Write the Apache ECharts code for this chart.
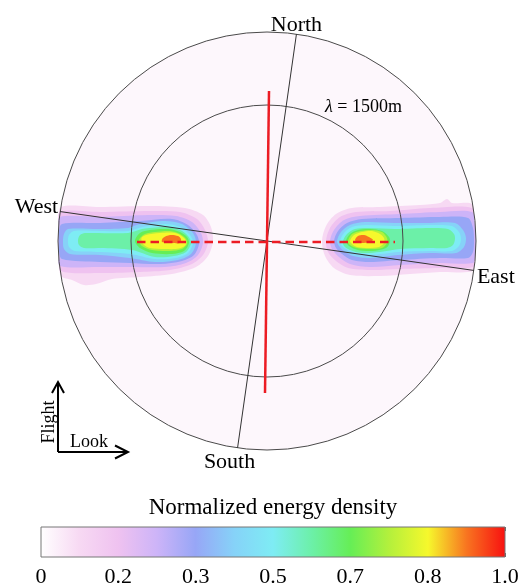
<!DOCTYPE html>
<html>
<head>
<meta charset="utf-8">
<script src="https://cdn.jsdelivr.net/npm/echarts@6/dist/echarts.min.js"></script>
<style>
  html, body { margin: 0; padding: 0; background: #ffffff; }
  #chart { width: 529px; height: 588px; }
</style>
</head>
<body>
<div id="chart"></div>
<script>
// Wavenumber-plane coordinates (arbitrary units), origin at the spectrum centre.
const OUTER_RADIUS = 104.5;
const INNER_RADIUS = 68;            // the λ = 1500 m ring
const RINGS = [OUTER_RADIUS, INNER_RADIUS];
const COMPASS_ROTATION_DEG = 8.1;   // North axis, clockwise from the flight direction
const COMPASS_LABELS = ['North', 'East', 'South', 'West'];
const WAVELENGTH_TEXT = '1500m';
const WAVELENGTH_LABEL_AT = [29, 67];

// Red reference tracks
const FLIGHT_TRACK = [[1, 75], [-1, -76]];
const LOOK_TRACK = [[-65, -0.5], [64, -0.5]];

// Flight / Look frame origin
const FRAME_ORIGIN = [-104.5, -105.5];
const FRAME_LABELS = ['Flight', 'Look'];

// Colour scale: one stop per twelfth of the normalised density
const COLOR_STOPS = [
  '#ffffff', '#f7d9f3', '#efc2f0', '#cdb4f8', '#97a6f6', '#86d2f8', '#7eecf4',
  '#6cf0a8', '#66ee56', '#b4f03c', '#f6f82c', '#f87420', '#f81010'
];
const COLORBAR_TICK_LABELS = ['0', '0.2', '0.3', '0.5', '0.7', '0.8', '1.0'];
const COLORBAR_TITLE = 'Normalized energy density';
const DISK_COLOR = '#fdf7fc';

// Filled contour bands; entry k-1 encloses density >= k/12
const WEST_BANDS = [
  [[-103,17],[-83.5,17],[-58.5,17.5],[-41,16.5],[-32,13],[-28,7],[-27,0],[-29.5,-7.5],[-35.5,-13],[-47.5,-16.5],[-63.5,-18],[-77.5,-19],[-85.5,-21.5],[-91.5,-22],[-97.5,-19.5],[-103,-17.5],[-104,-8.5],[-104.5,0],[-104,8.5]],
  [[-103.5,14.5],[-83.5,14.5],[-58.5,15],[-43.5,14.5],[-35,11],[-31,5.5],[-29.5,-0.5],[-32,-7],[-37.5,-11.5],[-48.5,-14.5],[-63.5,-15.5],[-83.5,-16],[-103,-15],[-104,-7.5],[-104.5,0],[-104,7]],
  [[-103.5,12],[-83.5,12],[-59.5,13],[-45.5,12.5],[-37.5,9.5],[-33,4],[-32,-1],[-34.5,-7],[-40.5,-11],[-51,-13],[-68.5,-13],[-83.5,-13],[-103.5,-12.5],[-104,-6.5],[-104.5,0],[-104,6]],
  [[-102.5,8.5],[-83.5,9],[-63.5,10],[-47.5,11],[-39.5,8],[-35,3],[-34,-1.5],[-36.5,-7],[-42.5,-10],[-53.5,-11.5],[-68.5,-11],[-83.5,-10.5],[-102.5,-9],[-104,-4.5],[-104,0],[-104,4.5]],
  [[-99.5,6],[-83.5,6],[-69.5,6.5],[-63.5,8.5],[-51,10],[-42.5,8.5],[-37,4],[-35.5,-1],[-38,-6.5],[-44.5,-9.5],[-56,-10.5],[-68.5,-8.5],[-83.5,-7],[-98.5,-6.5],[-101.5,-4],[-102,0],[-101.5,3.5]],
  [[-96.5,5],[-83.5,5],[-69.5,5],[-62.5,7],[-51,8.5],[-43.5,7],[-38.5,3],[-37,-1],[-39.5,-6],[-45.5,-8.5],[-56,-9],[-68.5,-6.5],[-83.5,-5.5],[-96,-5],[-99,-3],[-99.5,0],[-99,3]],
  [[-91,4],[-69.5,4],[-62.5,6],[-51,7],[-43.5,5.5],[-39.5,2.5],[-38,-1],[-40.5,-5.5],[-46.5,-7.5],[-56,-8],[-67.5,-4.5],[-83.5,-3.5],[-91.5,-3.5],[-94,-2],[-94.5,0.5],[-93.5,3]],
  [[-63.5,4],[-58.5,5.5],[-49.5,6],[-43.5,4.5],[-40,2],[-39,-1],[-41.5,-5],[-47.5,-6.5],[-57.5,-6],[-63.5,-3.5],[-66,0]],
  [[-61,3.5],[-56,4.5],[-48.5,5],[-43.5,3.5],[-40.5,1],[-40,-1.5],[-42.5,-4],[-48.5,-5],[-57.5,-4.5],[-62.5,-2.5],[-64,0.5]],
  [[-60.5,3],[-53.5,4],[-47.5,4.2],[-43.5,3],[-40.7,0.5],[-40.7,-2],[-44,-3.8],[-51,-4],[-58.5,-3.5],[-62,-1.5],[-62.8,1.5]],
  [[-52,1.5],[-48.5,3],[-44.5,2.5],[-43,1],[-43.5,-1],[-47.5,-1],[-52.5,-0.5]]
];

const EAST_BANDS = [
  [[27.5,0],[29.5,7.5],[34.5,13.5],[42.5,16.5],[56.5,17],[76.5,18],[86.5,19],[90,21],[92.5,19],[102.5,18.5],[103.5,10.5],[104.5,0],[103.5,-9.5],[103,-15],[86.5,-15.5],[71.5,-16.5],[56.5,-17.5],[41.5,-17],[33.5,-13.5],[29,-7.5]],
  [[29.5,0],[31.5,6.5],[36.5,12],[44.5,14.5],[61.5,15],[81.5,16.5],[102.5,16.5],[103.5,9.5],[104.5,0],[104,-8.5],[103,-13],[86.5,-13.5],[66.5,-14],[51.5,-14.5],[40.5,-13.5],[34.5,-10],[30.5,-5.5]],
  [[31.5,0],[33.5,5.5],[38.5,10.5],[46.5,12.5],[66.5,13.5],[86.5,14.5],[102.5,14.5],[104,8],[104.5,0],[104,-7],[103,-11],[86.5,-11],[66.5,-12],[51.5,-13],[41.5,-11.5],[36,-8],[32.5,-4]],
  [[33.5,0],[35.5,5],[40,9],[47.5,11],[66.5,11.5],[86.5,12],[100.5,11.5],[103,6.5],[103.5,0],[103,-5.5],[100.5,-8.5],[86.5,-8.5],[66.5,-9.5],[51.5,-10.5],[42.5,-9.5],[37.5,-6.5],[34.5,-3.5]],
  [[35,0],[37,4.5],[41.5,8],[49,9.5],[64,9],[81.5,9],[94,9],[98,5.5],[99.5,1.5],[98.5,-3],[94.5,-6],[81.5,-6],[65.5,-7],[51.5,-8.5],[43,-7.5],[38.5,-5],[36,-2.5]],
  [[36.5,0],[38.5,4],[42.5,7],[49.5,8],[64,7.5],[81.5,8],[92.5,7.5],[96,4.5],[97,1],[96,-2.5],[92.5,-5],[81.5,-5],[65.5,-5.5],[51.5,-7],[44,-6],[39.5,-4],[37,-2]],
  [[38,0],[40,3.5],[44,6],[50.5,6.5],[64,6],[81.5,6.5],[90.5,6],[93.5,3.5],[94,1],[93,-2],[90,-3.5],[81.5,-3.5],[66.5,-4],[56.5,-5.5],[47.5,-6],[41.5,-4.5],[38.5,-2.5]],
  [[39.5,0],[41.5,3.5],[45.5,5.5],[51.5,6],[57.5,5],[61,2],[61.5,-0.5],[59.5,-3.5],[52.5,-5],[45.5,-4.5],[41,-2.5]],
  [[40.5,0],[42.5,3.5],[47,5],[52.5,5.5],[57.5,4.5],[60,1.5],[60,-1],[57.5,-3.5],[51.5,-4],[45,-3.5],[41.5,-2]],
  [[41.5,0],[43.5,3],[47.5,4.5],[52.5,5],[56.5,3.5],[58.5,1.5],[58.5,-1],[56,-3],[50.5,-3.5],[45,-3],[42.5,-1.5]],
  [[44,0.5],[45.5,2.5],[48.5,3],[51,2],[53,0.5],[51,-0.5],[47.5,-1],[45,-0.5]]
];

const SERIF = '"Liberation Serif", "Times New Roman", serif';
const INK = '#000000';
const RED = '#ec1c24';

// Flatten both spectra into one list of bands, lowest level first
const BAND_ITEMS = [];
[WEST_BANDS, EAST_BANDS].forEach(function (bands) {
  bands.forEach(function (points, i) { BAND_ITEMS.push({ level: i + 1, points: points }); });
});
BAND_ITEMS.sort(function (a, b) { return a.level - b.level; });

function textEl(x, y, text, size, align, vAlign, extra) {
  return Object.assign({
    type: 'text', x: x, y: y,
    style: {
      text: text, fill: INK, fontSize: size, fontFamily: SERIF,
      align: align, verticalAlign: vAlign, textAlign: align, textVerticalAlign: vAlign
    }
  }, extra || {});
}

const chart = echarts.init(document.getElementById('chart'), null, { renderer: 'canvas' });

const option = {
  animation: false,
  backgroundColor: '#ffffff',
  grid: [
    { left: 0, top: 0, width: 529, height: 588 },
    { left: 41, top: 527, width: 464, height: 35 }
  ],
  xAxis: [
    { gridIndex: 0, type: 'value', min: -133.5, max: 131, show: false },
    {
      gridIndex: 1, type: 'value', min: 0, max: 1, interval: 1 / 12, position: 'bottom',
      axisLine: { show: false },
      axisTick: { show: true, inside: true, length: 4, lineStyle: { color: '#666', width: 1 } },
      axisLabel: {
        margin: 9, color: INK, fontSize: 22, fontFamily: SERIF,
        showMinLabel: true, showMaxLabel: true,
        formatter: function (v) {
          const k = Math.round(v * 12);
          return k % 2 === 0 ? COLORBAR_TICK_LABELS[k / 2] : '';
        }
      },
      splitLine: { show: false }
    },
    {
      gridIndex: 1, type: 'value', min: 0, max: 1, interval: 1 / 12, position: 'top',
      axisLine: { show: false },
      axisTick: { show: true, inside: true, length: 4, lineStyle: { color: '#666', width: 1 } },
      axisLabel: { show: false },
      splitLine: { show: false },
      name: COLORBAR_TITLE, nameLocation: 'middle', nameGap: 8,
      nameTextStyle: { color: INK, fontSize: 23, fontFamily: SERIF }
    }
  ],
  yAxis: [
    { gridIndex: 0, type: 'value', min: -173.5, max: 120.5, show: false },
    { gridIndex: 1, type: 'value', min: 0, max: 1, show: false }
  ],
  series: [
    {
      // spectrum disk background
      type: 'custom', xAxisIndex: 0, yAxisIndex: 0, z: 1, silent: true,
      data: [[0, 0, OUTER_RADIUS]], encode: { x: 0, y: 1 },
      renderItem: function (params, api) {
        const c = api.coord([0, 0]);
        const r = api.size([api.value(2), 0])[0];
        return { type: 'circle', shape: { cx: c[0], cy: c[1], r: r }, style: { fill: DISK_COLOR } };
      }
    },
    {
      // filled contours of normalised energy density
      type: 'custom', xAxisIndex: 0, yAxisIndex: 0, z: 2, silent: true,
      data: BAND_ITEMS.map(function (b, i) { return [0, 0, i]; }), encode: { x: 0, y: 1 },
      renderItem: function (params, api) {
        const band = BAND_ITEMS[api.value(2)];
        return {
          type: 'polygon', z2: band.level,
          shape: { points: band.points.map(function (p) { return api.coord(p); }), smooth: 0.3 },
          style: { fill: COLOR_STOPS[band.level] }
        };
      }
    },
    {
      // wavenumber rings
      type: 'custom', xAxisIndex: 0, yAxisIndex: 0, z: 3, silent: true,
      data: RINGS.map(function (r) { return [0, 0, r]; }), encode: { x: 0, y: 1 },
      renderItem: function (params, api) {
        const c = api.coord([0, 0]);
        const r = api.size([api.value(2), 0])[0];
        return { type: 'circle', shape: { cx: c[0], cy: c[1], r: r }, style: { fill: null, stroke: '#4a4a4a', lineWidth: 1 } };
      }
    },
    {
      // geographic axes and their labels
      type: 'custom', xAxisIndex: 0, yAxisIndex: 0, z: 3, silent: true,
      data: [[0, 0]], encode: { x: 0, y: 1 },
      renderItem: function (params, api) {
        const t = COMPASS_ROTATION_DEG * Math.PI / 180;
        const n = [OUTER_RADIUS * Math.sin(t), OUTER_RADIUS * Math.cos(t)];
        const e = [OUTER_RADIUS * Math.cos(t), -OUTER_RADIUS * Math.sin(t)];
        const N = api.coord(n), S = api.coord([-n[0], -n[1]]);
        const E = api.coord(e), W = api.coord([-e[0], -e[1]]);
        const axisStyle = { stroke: '#333333', lineWidth: 1 };
        return {
          type: 'group',
          children: [
            { type: 'line', shape: { x1: N[0], y1: N[1], x2: S[0], y2: S[1] }, style: axisStyle },
            { type: 'line', shape: { x1: E[0], y1: E[1], x2: W[0], y2: W[1] }, style: axisStyle },
            textEl(N[0], N[1] - 9, COMPASS_LABELS[0], 22, 'center', 'middle'),
            textEl(E[0] + 3, E[1] + 7, COMPASS_LABELS[1], 22, 'left', 'middle'),
            textEl(S[0] - 8, S[1] + 14, COMPASS_LABELS[2], 22, 'center', 'middle'),
            textEl(W[0] - 2, W[1] - 4.5, COMPASS_LABELS[3], 22, 'right', 'middle')
          ]
        };
      }
    },
    {
      type: 'line', xAxisIndex: 0, yAxisIndex: 0, z: 4, silent: true,
      data: FLIGHT_TRACK, showSymbol: false, symbol: 'none',
      lineStyle: { color: RED, width: 2.5 }
    },
    {
      type: 'line', xAxisIndex: 0, yAxisIndex: 0, z: 4, silent: true,
      data: LOOK_TRACK, showSymbol: false, symbol: 'none',
      lineStyle: { color: RED, width: 2.5, type: [8.5, 5] }
    },
    {
      // wavelength label of the inner ring
      type: 'custom', xAxisIndex: 0, yAxisIndex: 0, z: 5, silent: true,
      data: [WAVELENGTH_LABEL_AT], encode: { x: 0, y: 1 },
      renderItem: function (params, api) {
        const p = api.coord([api.value(0), api.value(1)]);
        return {
          type: 'text', x: p[0], y: p[1],
          style: {
            text: '{i|λ} = ' + WAVELENGTH_TEXT,
            fill: INK, fontSize: 18, fontFamily: SERIF,
            align: 'left', verticalAlign: 'middle', textAlign: 'left', textVerticalAlign: 'middle',
            rich: { i: { fontStyle: 'italic', fontSize: 18, fontFamily: SERIF, fill: INK } }
          }
        };
      }
    },
    {
      // Flight / Look frame
      type: 'custom', xAxisIndex: 0, yAxisIndex: 0, z: 5, silent: true,
      data: [FRAME_ORIGIN], encode: { x: 0, y: 1 },
      renderItem: function (params, api) {
        const o = api.coord([api.value(0), api.value(1)]);
        const ox = o[0], oy = o[1];
        const s = { stroke: INK, lineWidth: 2, fill: null };
        return {
          type: 'group',
          children: [
            { type: 'polyline', shape: { points: [[ox, oy], [ox, oy - 70]] }, style: s },
            { type: 'polyline', shape: { points: [[ox - 6, oy - 59], [ox, oy - 70], [ox + 6, oy - 59]] }, style: s },
            { type: 'polyline', shape: { points: [[ox, oy], [ox + 70, oy]] }, style: s },
            { type: 'polyline', shape: { points: [[ox + 57, oy - 6.5], [ox + 70, oy], [ox + 57, oy + 6.5]] }, style: s },
            textEl(ox - 9, oy - 30, FRAME_LABELS[0], 18, 'center', 'middle', { rotation: Math.PI / 2 }),
            textEl(ox + 12, oy - 10, FRAME_LABELS[1], 18, 'left', 'middle')
          ]
        };
      }
    },
    {
      // colour bar
      type: 'custom', xAxisIndex: 1, yAxisIndex: 1, z: 2, silent: true,
      data: [[0, 0]], encode: { x: 0, y: 1 },
      renderItem: function (params, api) {
        const a = api.coord([0, 1]);
        const b = api.coord([1, 0]);
        return {
          type: 'rect',
          shape: { x: a[0], y: a[1], width: b[0] - a[0], height: b[1] - a[1] },
          style: {
            fill: {
              type: 'linear', x: 0, y: 0, x2: 1, y2: 0,
              colorStops: COLOR_STOPS.map(function (c, i) { return { offset: i / 12, color: c }; })
            },
            stroke: '#777777', lineWidth: 1
          }
        };
      }
    }
  ]
};

chart.setOption(option);
</script>
</body>
</html>
